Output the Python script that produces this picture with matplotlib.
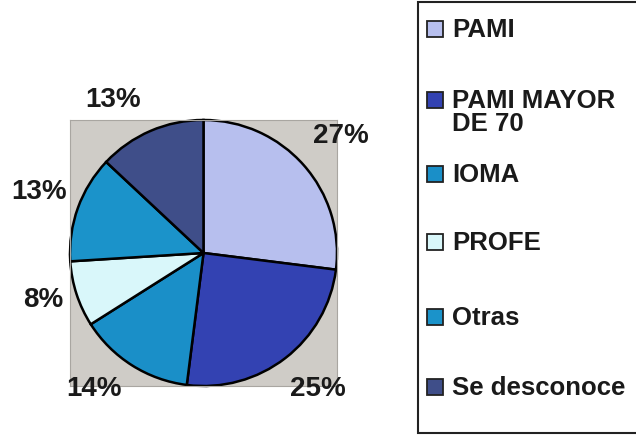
import matplotlib.pyplot as plt
from matplotlib.patches import Rectangle

# datos del gráfico
labels = ["PAMI", "PAMI MAYOR\nDE 70", "IOMA", "PROFE", "Otras", "Se desconoce"]
values = [27, 25, 14, 8, 13, 13]
colors = ["#b7bfee", "#3342b2", "#1a8fc8", "#d9f7fa", "#1b93ca", "#3f4e89"]

# posiciones de las etiquetas de porcentaje (coordenadas del eje, radio = 1)
label_pos = [(1.03, 0.88), (0.86, -1.02), (-0.82, -1.02),
             (-1.20, -0.35), (-1.23, 0.46), (-0.68, 1.15)]

plt.rcParams['font.family'] = ['Liberation Sans', 'DejaVu Sans']

W, H = 636, 436
fig = plt.figure(figsize=(W / 100, H / 100), dpi=100)


def fx(x):
    return x / W


def fy(y):
    return 1 - y / H


# ========== pie ==========
ax = fig.add_axes([fx(70), fy(386), (337 - 70) / W, (386 - 120) / H])
wedges, texts, autotexts = ax.pie(
    values, colors=colors, startangle=90, counterclock=False,
    autopct='%1.0f%%', pctdistance=1.3, radius=1.0,
    wedgeprops=dict(edgecolor="black", linewidth=1.8),
    textprops=dict(fontsize=20, fontweight="bold", color="#1a1a1a"),
)
for t, (x, y) in zip(autotexts, label_pos):
    t.set_position((x, y))
ax.set_frame_on(True)
ax.set_facecolor("#cfccc7")
ax.set_xlim(-1.0, 1.0)
ax.set_ylim(-1.0, 1.0)
ax.set_aspect("auto")
ax.set_xticks([])
ax.set_yticks([])
for s in ax.spines.values():
    s.set_color("#a9a6a1")
    s.set_linewidth(0.8)
for w in wedges:
    w.set_clip_on(False)

# ========== leyenda ==========
fig.patches.append(Rectangle((fx(418), fy(433)), (W + 5 - 418) / W, (433 - 2) / H,
                             transform=fig.transFigure, facecolor="white",
                             edgecolor="#222222", linewidth=1.5, zorder=0))
baselines = [37, 108, 182, 250, 325, 395]
for lab, col, base in zip(labels, colors, baselines):
    fig.patches.append(Rectangle((fx(427), fy(base)), 16 / W, 16 / H,
                                 transform=fig.transFigure, facecolor=col,
                                 edgecolor="#222222", linewidth=1.3))
    for i, line in enumerate(lab.split("\n")):
        fig.text(fx(452), fy(base + i * 23), line, fontsize=18.5, fontweight="bold",
                 color="#1a1a1a", va="baseline", ha="left")

fig.savefig("out.png", dpi=100)
